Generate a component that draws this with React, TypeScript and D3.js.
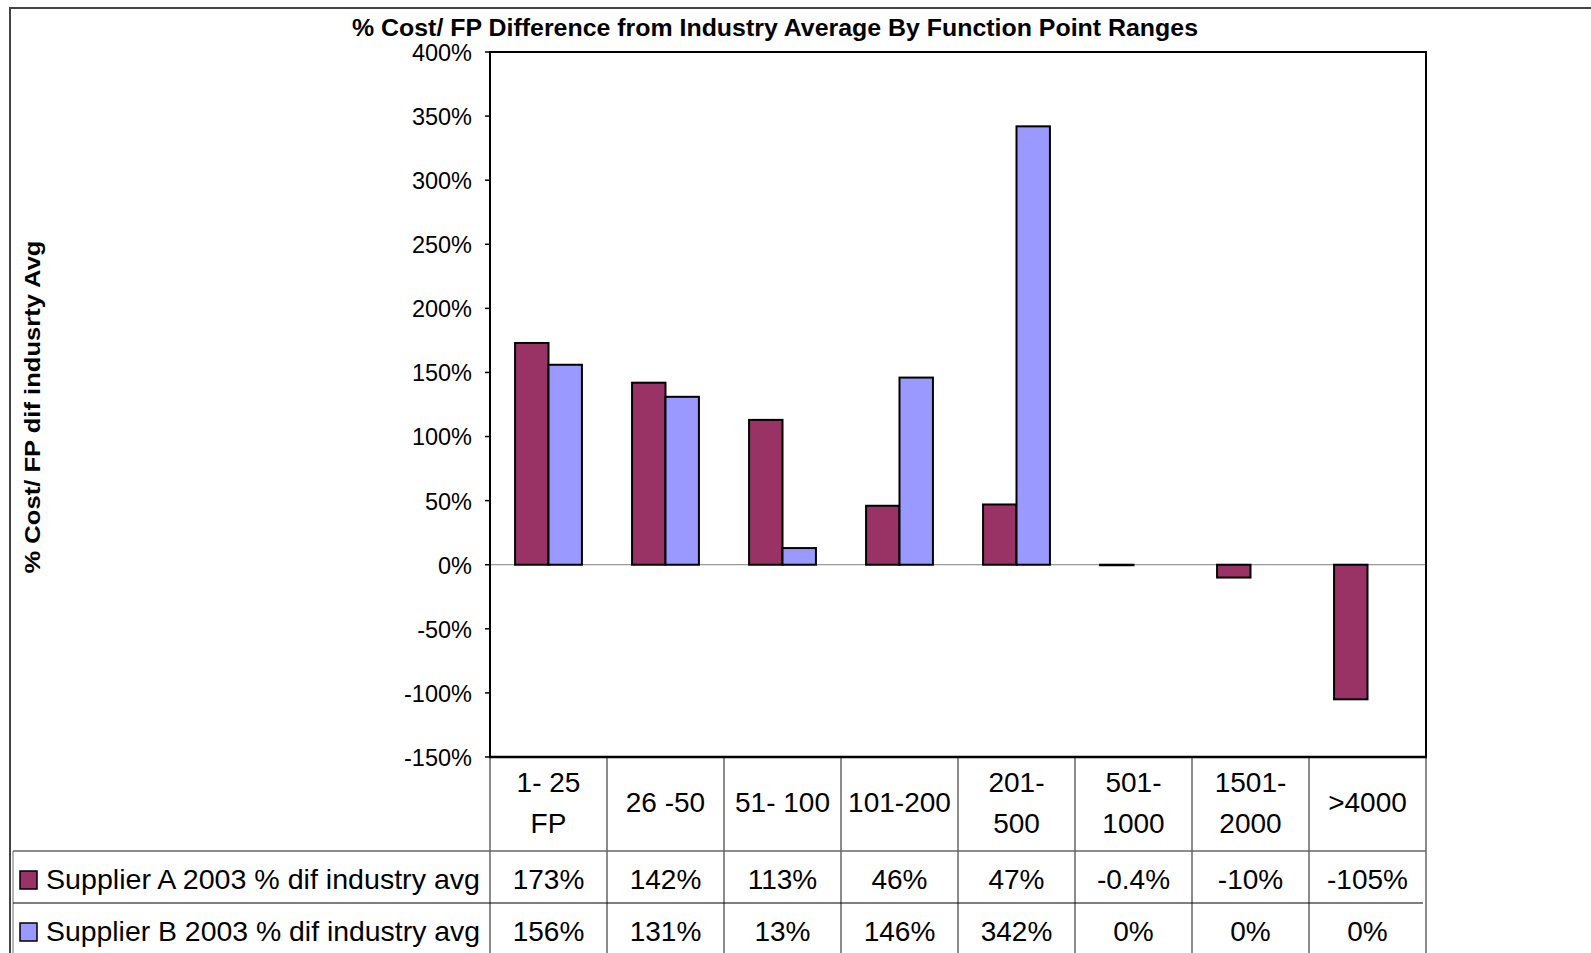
import React from "react";
import * as d3 from "d3";

// categories (function point ranges), header cells may wrap onto two lines
const categories = ["1- 25|FP", "26 -50", "51- 100", "101-200", "201-|500", "501-|1000", "1501-|2000", ">4000"];
const supplierA = [173, 142, 113, 46, 47, -0.4, -10, -105];
const supplierB = [156, 131, 13, 146, 342, 0, 0, 0];
const seriesNames = ["Supplier A 2003 % dif industry avg", "Supplier B 2003 % dif industry avg"];
const seriesColors = ["#993366", "#9999FF"];
const yTicks = [-150, -100, -50, 0, 50, 100, 150, 200, 250, 300, 350, 400];

const W = 1591;
const H = 953;
const FONT = "'Liberation Sans', Arial, sans-serif";

const plot = { left: 490, right: 1426, top: 52, bottom: 757 };
const rowA = { top: 851, bottom: 903 };
const rowB = { top: 903, bottom: 960 };

const fmt = (v: number) => (v !== 0 && Math.abs(v) < 1 ? v.toFixed(1) : v.toFixed(0)) + "%";

const App: React.FC = () => {
  const x = d3.scaleBand<string>().domain(categories).range([plot.left, plot.right]).padding(0);
  const inner = d3
    .scaleBand<string>()
    .domain(["A", "B"])
    .range([0, x.bandwidth()])
    .paddingInner(0)
    .paddingOuter(0.75);
  const y = d3.scaleLinear().domain([-150, 400]).range([plot.bottom, plot.top]);

  const series = [supplierA, supplierB];
  const keys = ["A", "B"];

  return (
    <svg
      width={W}
      height={H}
      style={{ position: "absolute", left: 0, top: 0, background: "#fff" }}
      fontFamily={FONT}
    >
      {/* outer chart frame */}
      <path d={`M${W + 5},8 H10 V${H + 5}`} fill="none" stroke="#444" strokeWidth={2} />

      {/* title */}
      <text x={775} y={36} textAnchor="middle" fontSize={23} fontWeight="bold" textLength={846} lengthAdjust="spacingAndGlyphs">
        % Cost/ FP Difference from Industry Average By Function Point Ranges
      </text>

      {/* y axis title */}
      <text
        transform={`translate(40,407) rotate(-90)`}
        textAnchor="middle"
        fontSize={22}
        fontWeight="bold"
        textLength={333}
        lengthAdjust="spacingAndGlyphs"
      >
        % Cost/ FP dif indusrty Avg
      </text>

      {/* zero line */}
      <line x1={plot.left} x2={plot.right} y1={y(0)} y2={y(0)} stroke="#808080" strokeWidth={1} />

      {/* bars */}
      {categories.map((c, i) =>
        series.map((s, j) => {
          const v = s[i];
          if (v === 0) return null;
          const y0 = y(Math.max(0, v));
          const y1 = y(Math.min(0, v));
          return (
            <rect
              key={`${c}-${j}`}
              x={(x(c) as number) + (inner(keys[j]) as number)}
              y={y0}
              width={inner.bandwidth()}
              height={Math.max(0.5, y1 - y0)}
              fill={seriesColors[j]}
              stroke="#000"
              strokeWidth={2}
            />
          );
        })
      )}

      {/* plot frame */}
      <path
        d={`M${plot.left},${plot.bottom} V${plot.top} H${plot.right} V${plot.bottom}`}
        fill="none"
        stroke="#000"
        strokeWidth={2}
      />

      {/* y ticks */}
      {yTicks.map((t) => (
        <g key={t}>
          <line x1={plot.left - 5} x2={plot.left} y1={y(t)} y2={y(t)} stroke="#000" strokeWidth={1.5} />
          <text x={472} y={y(t)} dy="0.38em" textAnchor="end" fontSize={23.5}>
            {t}%
          </text>
        </g>
      ))}

      {/* data table */}
      {/* vertical grid */}
      {categories.map((c) => (
        <line key={`v-${c}`} x1={x(c)} x2={x(c)} y1={plot.bottom} y2={H + 5} stroke="#666" strokeWidth={1.5} />
      ))}
      <line x1={plot.right} x2={plot.right} y1={plot.bottom} y2={H + 5} stroke="#666" strokeWidth={1.5} />
      <line x1={13} x2={13} y1={rowA.top} y2={H + 5} stroke="#888" strokeWidth={1.2} />
      {/* horizontal grid */}
      <line x1={13} x2={plot.right} y1={rowA.top} y2={rowA.top} stroke="#666" strokeWidth={1.5} />
      <line x1={13} x2={plot.right - 3} y1={rowB.top} y2={rowB.top} stroke="#000" strokeWidth={1.2} />
      <line x1={plot.left - 1} x2={plot.right + 1} y1={plot.bottom} y2={plot.bottom} stroke="#000" strokeWidth={2.5} />

      {/* category headers */}
      {categories.map((c) => {
        const lines = c.split("|");
        const cx = (x(c) as number) + x.bandwidth() / 2;
        const base = lines.length === 1 ? [812] : [792, 833];
        return lines.map((l, k) => (
          <text key={`${c}-${k}`} x={cx} y={base[k]} textAnchor="middle" fontSize={28}>
            {l}
          </text>
        ));
      })}

      {/* series rows */}
      {series.map((s, j) => {
        const row = j === 0 ? rowA : rowB;
        const baseline = j === 0 ? 889 : 941;
        return (
          <g key={`row-${j}`}>
            <rect x={20} y={row.top + 20} width={17} height={18} fill={seriesColors[j]} stroke="#000" strokeWidth={1.5} />
            <text x={46} y={baseline} fontSize={28} textLength={434} lengthAdjust="spacingAndGlyphs">
              {seriesNames[j]}
            </text>
            {categories.map((c, i) => (
              <text key={c} x={(x(c) as number) + x.bandwidth() / 2} y={baseline} textAnchor="middle" fontSize={28}>
                {fmt(s[i])}
              </text>
            ))}
          </g>
        );
      })}
    </svg>
  );
};

export default App;
